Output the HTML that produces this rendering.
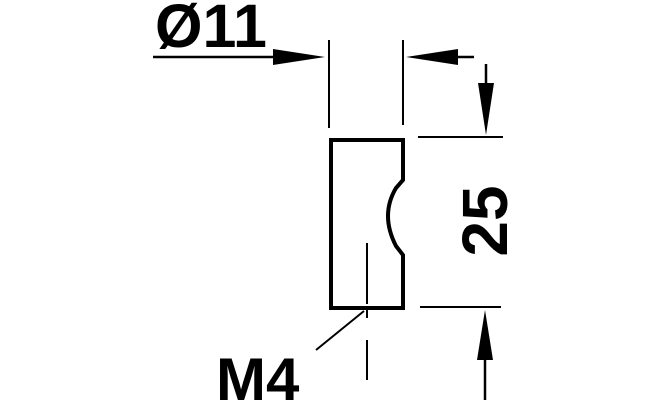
<!DOCTYPE html>
<html><head><style>html,body{margin:0;padding:0;background:#fff;width:659px;height:400px;overflow:hidden}</style></head>
<body>
<svg width="659" height="400" viewBox="0 0 659 400" xmlns="http://www.w3.org/2000/svg">
<g stroke="#000" fill="none">
<path d="M331 140 H403 V180 L396 188 Q380 215 396 246 L403 255 V308 H331 Z" stroke-width="4"/>
<line x1="329" y1="40" x2="329" y2="128" stroke-width="2"/>
<line x1="403" y1="40" x2="403" y2="125" stroke-width="2"/>
<line x1="153" y1="57" x2="280" y2="57" stroke-width="2.5"/>
<line x1="450" y1="57" x2="474" y2="57" stroke-width="2.5"/>
<line x1="486" y1="64" x2="486" y2="90" stroke-width="2.5"/>
<line x1="418" y1="137" x2="503" y2="137" stroke-width="2"/>
<line x1="420" y1="307" x2="501" y2="307" stroke-width="2"/>
<line x1="485" y1="350" x2="485" y2="400" stroke-width="2.5"/>
<line x1="367" y1="243" x2="367" y2="304" stroke-width="2"/>
<line x1="367" y1="310" x2="367" y2="318" stroke-width="2"/>
<line x1="367" y1="340" x2="367" y2="380" stroke-width="2"/>
<line x1="364" y1="311" x2="316" y2="350" stroke-width="2"/>
</g>
<g fill="#000">
<polygon points="325,57 273,49 273,65"/>
<polygon points="406,57 458,49 458,65"/>
<polygon points="486,135 478,83 494,83"/>
<polygon points="485,310 477,360 493,360"/>
</g>
<g font-family="Liberation Sans, sans-serif" font-weight="bold" fill="#000">
<text x="155" y="47" font-size="61">Ø11</text>
<text x="216" y="400" font-size="60">M4</text>
<text x="0" y="0" font-size="64" text-anchor="middle" transform="translate(507,221) rotate(-90)">25</text>
</g>
</svg>
</body></html>
